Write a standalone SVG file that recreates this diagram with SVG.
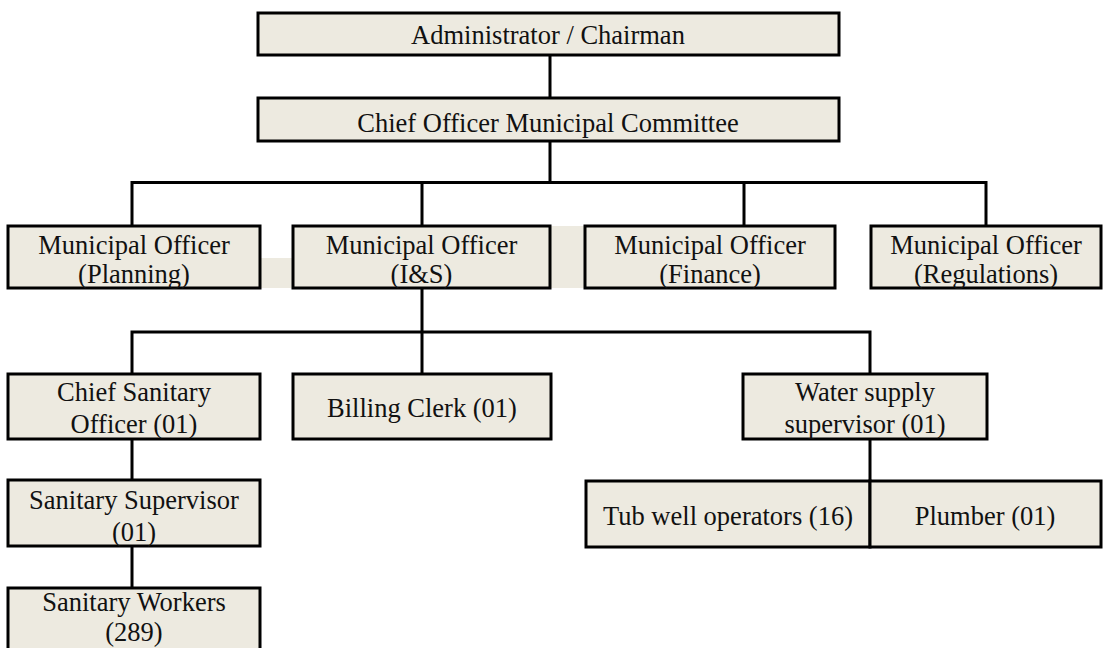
<svg xmlns="http://www.w3.org/2000/svg" width="1106" height="648" viewBox="0 0 1106 648">
<style>
.box{fill:#EDEAE0;stroke:#000;stroke-width:3}
.strip{fill:#EDEAE0;stroke:none}
.t{font-family:"Liberation Serif","Times New Roman",serif;font-size:26.5px;fill:#111;text-anchor:middle}
.c{fill:none;stroke:#000;stroke-width:3}
</style>
<rect width="1106" height="648" fill="#fff"/>
<rect class="strip" x="260" y="258" width="33" height="30"/>
<rect class="strip" x="550" y="226" width="35" height="62"/>
<g id="connectors">
<path class="c" d="M550 55V98M550 141V182.5M132 226V182.5H986V226M422 182.5V226M744 182.5V226"/>
<path class="c" d="M422 288V332M132 374V332H870V374M422 332V374"/>
<path class="c" d="M132 439V480M132 546V588M870 439V481"/>
</g>
<g id="admin"><rect class="box" x="258" y="13" width="581" height="42"/><text class="t" x="548" y="44">Administrator / Chairman</text></g>
<g id="chief"><rect class="box" x="258" y="98" width="581" height="43"/><text class="t" x="548" y="132">Chief Officer Municipal Committee</text></g>
<g id="mo-planning"><rect class="box" x="8" y="226" width="252" height="62"/><text class="t" x="134" y="254">Municipal Officer</text><text class="t" x="134" y="283">(Planning)</text></g>
<g id="mo-is"><rect class="box" x="293" y="226" width="257" height="62"/><text class="t" x="421.5" y="254">Municipal Officer</text><text class="t" x="421.5" y="283">(I&amp;S)</text></g>
<g id="mo-finance"><rect class="box" x="585" y="226" width="250" height="62"/><text class="t" x="710" y="254">Municipal Officer</text><text class="t" x="710" y="283">(Finance)</text></g>
<g id="mo-regulations"><rect class="box" x="871" y="226" width="230" height="62"/><text class="t" x="986" y="254">Municipal Officer</text><text class="t" x="986" y="283">(Regulations)</text></g>
<g id="chief-sanitary"><rect class="box" x="8" y="374" width="252" height="65"/><text class="t" x="134" y="401">Chief Sanitary</text><text class="t" x="134" y="433">Officer (01)</text></g>
<g id="billing"><rect class="box" x="293" y="374" width="258" height="65"/><text class="t" x="422" y="417">Billing Clerk (01)</text></g>
<g id="water"><rect class="box" x="743" y="374" width="244" height="65"/><text class="t" x="865" y="401">Water supply</text><text class="t" x="865" y="433">supervisor (01)</text></g>
<g id="sanitary-supervisor"><rect class="box" x="8" y="480" width="252" height="66"/><text class="t" x="134" y="509">Sanitary Supervisor</text><text class="t" x="134" y="541">(01)</text></g>
<g id="sanitary-workers"><rect class="box" x="8" y="588" width="252" height="80"/><text class="t" x="134" y="611">Sanitary Workers</text><text class="t" x="134" y="641">(289)</text></g>
<g id="tubwell"><rect class="box" x="586" y="481" width="284" height="66"/><text class="t" x="728" y="525">Tub well operators (16)</text></g>
<g id="plumber"><rect class="box" x="870" y="481" width="231" height="66"/><text class="t" x="985" y="525">Plumber (01)</text></g>
</svg>
